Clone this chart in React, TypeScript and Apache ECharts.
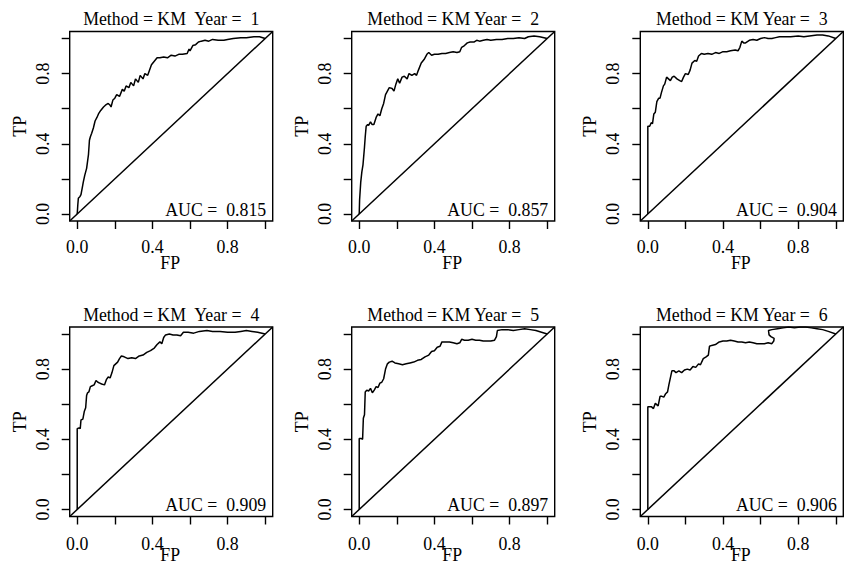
import React, { useEffect, useRef } from "react";
import * as echarts from "echarts";

const years = [1, 2, 3, 4, 5, 6];
const titleTexts = [
  "Method = KM  Year =  1",
  "Method = KM Year =  2",
  "Method = KM Year =  3",
  "Method = KM  Year =  4",
  "Method = KM Year =  5",
  "Method = KM Year =  6",
];
const aucValues = ["0.815", "0.857", "0.904", "0.909", "0.897", "0.906"];
const tickValues = [0, 0.2, 0.4, 0.6, 0.8, 1.0];
const tickLabelValues = [0, 0.4, 0.8];
const diagonal = [[-0.04, -0.04], [1.04, 1.04]];

// ROC curves: [FP, TP]
const roc1 = [
  [0, 0], [0.003, 0.05], [0.006, 0.09], [0.015, 0.1], [0.02, 0.11], [0.027, 0.15], [0.032, 0.18], [0.04, 0.22], [0.05, 0.26], [0.055, 0.3], [0.06, 0.34], [0.065, 0.42], [0.07, 0.44], [0.077, 0.46], [0.086, 0.49], [0.095, 0.53], [0.105, 0.55], [0.113, 0.57], [0.125, 0.59], [0.14, 0.61], [0.15, 0.62], [0.165, 0.63], [0.175, 0.62], [0.18, 0.61], [0.19, 0.65], [0.2, 0.66], [0.21, 0.68], [0.225, 0.67], [0.24, 0.71], [0.25, 0.7], [0.26, 0.73], [0.275, 0.72], [0.285, 0.75], [0.3, 0.73], [0.31, 0.77], [0.325, 0.75], [0.335, 0.79], [0.35, 0.77], [0.36, 0.8], [0.375, 0.79], [0.385, 0.82], [0.395, 0.85], [0.41, 0.87], [0.425, 0.89], [0.44, 0.89], [0.46, 0.895], [0.48, 0.89], [0.5, 0.905], [0.52, 0.9], [0.54, 0.91], [0.56, 0.91], [0.585, 0.915], [0.595, 0.94], [0.6, 0.93], [0.615, 0.96], [0.63, 0.965], [0.645, 0.98], [0.66, 0.985], [0.68, 0.99], [0.7, 0.985], [0.72, 0.995], [0.75, 0.99], [0.78, 0.99], [0.8, 0.995], [0.83, 1.0], [0.87, 1.005], [0.9, 1.005], [0.94, 1.01], [0.97, 1.01], [1.0, 1.0],
];
const roc2 = [
  [0, 0], [0.002, 0.08], [0.008, 0.18], [0.014, 0.24], [0.02, 0.28], [0.028, 0.38], [0.032, 0.44], [0.037, 0.5], [0.045, 0.51], [0.05, 0.505], [0.06, 0.525], [0.068, 0.51], [0.078, 0.51], [0.09, 0.55], [0.1, 0.57], [0.11, 0.56], [0.12, 0.6], [0.13, 0.63], [0.14, 0.68], [0.15, 0.7], [0.16, 0.72], [0.175, 0.715], [0.185, 0.7], [0.195, 0.74], [0.205, 0.77], [0.215, 0.745], [0.228, 0.78], [0.24, 0.785], [0.255, 0.77], [0.265, 0.8], [0.28, 0.79], [0.295, 0.8], [0.305, 0.79], [0.315, 0.82], [0.33, 0.86], [0.345, 0.88], [0.36, 0.91], [0.37, 0.92], [0.385, 0.905], [0.4, 0.91], [0.42, 0.91], [0.44, 0.915], [0.46, 0.915], [0.48, 0.92], [0.5, 0.925], [0.52, 0.92], [0.535, 0.925], [0.545, 0.95], [0.56, 0.96], [0.575, 0.975], [0.59, 0.98], [0.61, 0.98], [0.625, 0.99], [0.64, 0.985], [0.66, 0.99], [0.68, 0.995], [0.7, 0.99], [0.73, 0.995], [0.76, 0.995], [0.79, 1.0], [0.82, 1.0], [0.85, 1.005], [0.88, 1.0], [0.9, 1.01], [0.93, 1.015], [0.96, 1.01], [1.0, 1.0],
];
const roc3 = [
  [0, 0], [0, 0.5], [0.01, 0.5], [0.018, 0.52], [0.025, 0.515], [0.032, 0.57], [0.04, 0.58], [0.048, 0.64], [0.058, 0.66], [0.065, 0.66], [0.072, 0.69], [0.083, 0.73], [0.09, 0.74], [0.1, 0.78], [0.11, 0.77], [0.12, 0.76], [0.13, 0.78], [0.14, 0.785], [0.155, 0.77], [0.17, 0.76], [0.18, 0.755], [0.19, 0.78], [0.2, 0.8], [0.215, 0.795], [0.225, 0.82], [0.235, 0.86], [0.25, 0.875], [0.26, 0.87], [0.27, 0.9], [0.285, 0.915], [0.3, 0.91], [0.32, 0.915], [0.34, 0.91], [0.36, 0.92], [0.38, 0.915], [0.4, 0.925], [0.42, 0.925], [0.44, 0.93], [0.465, 0.935], [0.48, 0.93], [0.49, 0.95], [0.5, 0.985], [0.51, 0.975], [0.52, 0.975], [0.54, 0.99], [0.56, 0.995], [0.58, 0.99], [0.6, 1.0], [0.62, 1.005], [0.64, 1.0], [0.66, 1.0], [0.68, 1.005], [0.7, 1.01], [0.73, 1.01], [0.76, 1.01], [0.8, 1.015], [0.83, 1.01], [0.86, 1.015], [0.9, 1.02], [0.93, 1.02], [0.96, 1.015], [1.0, 1.0],
];
const roc4 = [
  [0, 0], [0, 0.46], [0.01, 0.465], [0.016, 0.46], [0.02, 0.51], [0.03, 0.515], [0.038, 0.56], [0.045, 0.58], [0.05, 0.65], [0.055, 0.665], [0.062, 0.67], [0.07, 0.7], [0.08, 0.705], [0.09, 0.71], [0.1, 0.735], [0.11, 0.725], [0.12, 0.72], [0.13, 0.715], [0.145, 0.71], [0.155, 0.74], [0.165, 0.755], [0.175, 0.75], [0.185, 0.78], [0.195, 0.82], [0.205, 0.83], [0.215, 0.84], [0.225, 0.86], [0.235, 0.875], [0.25, 0.87], [0.27, 0.86], [0.29, 0.865], [0.31, 0.86], [0.33, 0.875], [0.35, 0.88], [0.37, 0.895], [0.39, 0.905], [0.41, 0.92], [0.425, 0.94], [0.44, 0.955], [0.45, 0.945], [0.46, 0.98], [0.47, 0.995], [0.49, 1.0], [0.51, 0.995], [0.53, 0.995], [0.55, 0.99], [0.565, 1.01], [0.59, 1.01], [0.62, 1.005], [0.65, 1.015], [0.69, 1.02], [0.72, 1.015], [0.76, 1.015], [0.8, 1.01], [0.84, 1.01], [0.87, 1.015], [0.9, 1.02], [0.93, 1.015], [0.96, 1.01], [1.0, 1.0],
];
const roc5 = [
  [0, 0], [0, 0.405], [0.01, 0.405], [0.018, 0.4], [0.022, 0.52], [0.028, 0.54], [0.032, 0.67], [0.04, 0.68], [0.05, 0.675], [0.06, 0.69], [0.07, 0.665], [0.08, 0.68], [0.09, 0.7], [0.1, 0.695], [0.11, 0.72], [0.12, 0.725], [0.13, 0.745], [0.14, 0.8], [0.15, 0.83], [0.16, 0.84], [0.175, 0.845], [0.19, 0.835], [0.21, 0.83], [0.23, 0.825], [0.25, 0.83], [0.27, 0.835], [0.29, 0.84], [0.31, 0.85], [0.33, 0.855], [0.35, 0.87], [0.37, 0.88], [0.385, 0.9], [0.4, 0.905], [0.415, 0.925], [0.43, 0.93], [0.44, 0.955], [0.46, 0.955], [0.48, 0.955], [0.5, 0.95], [0.52, 0.945], [0.535, 0.95], [0.545, 0.97], [0.56, 0.965], [0.58, 0.965], [0.6, 0.97], [0.62, 0.965], [0.64, 0.965], [0.66, 0.96], [0.68, 0.96], [0.7, 0.96], [0.72, 0.965], [0.73, 0.985], [0.735, 1.02], [0.76, 1.025], [0.79, 1.025], [0.82, 1.02], [0.85, 1.025], [0.88, 1.03], [0.91, 1.025], [0.94, 1.02], [0.97, 1.01], [1.0, 1.0],
];
const roc6 = [
  [0, 0], [0, 0.585], [0.01, 0.585], [0.02, 0.585], [0.03, 0.575], [0.04, 0.605], [0.05, 0.595], [0.055, 0.59], [0.065, 0.645], [0.075, 0.645], [0.085, 0.64], [0.095, 0.66], [0.105, 0.67], [0.112, 0.71], [0.12, 0.75], [0.128, 0.79], [0.14, 0.79], [0.15, 0.78], [0.165, 0.79], [0.18, 0.78], [0.195, 0.795], [0.21, 0.8], [0.225, 0.795], [0.24, 0.815], [0.255, 0.81], [0.27, 0.83], [0.28, 0.825], [0.295, 0.86], [0.31, 0.87], [0.322, 0.88], [0.328, 0.93], [0.34, 0.935], [0.36, 0.94], [0.38, 0.955], [0.4, 0.96], [0.42, 0.96], [0.44, 0.965], [0.46, 0.96], [0.48, 0.955], [0.5, 0.955], [0.52, 0.95], [0.54, 0.955], [0.56, 0.95], [0.58, 0.945], [0.6, 0.945], [0.62, 0.945], [0.64, 0.95], [0.66, 0.945], [0.67, 0.96], [0.672, 0.975], [0.655, 0.985], [0.645, 0.995], [0.642, 1.02], [0.66, 1.025], [0.69, 1.03], [0.72, 1.035], [0.75, 1.04], [0.78, 1.035], [0.81, 1.04], [0.84, 1.04], [0.87, 1.035], [0.9, 1.03], [0.93, 1.025], [0.96, 1.015], [1.0, 1.0],
];
const rocCurves = [roc1, roc2, roc3, roc4, roc5, roc6];

const FONT = "'Liberation Serif', 'Times New Roman', serif";
const FS = 17.8;
const colLefts = [69.7, 351.7, 640.3];
const rowTops = [31.5, 327];
const fpNameOffsets = [42, 38];
const fpLabelMargins = [17, 18];
const boxW = 203;
const boxH = 189.5;

export default function App() {
  const ref = useRef<HTMLDivElement>(null);
  useEffect(() => {
    if (!ref.current) return;
    const chart = echarts.init(ref.current, null, { renderer: "svg" });
    const grids: any[] = [];
    const xAxes: any[] = [];
    const yAxes: any[] = [];
    const series: any[] = [];
    const graphics: any[] = [];
    years.forEach((yr, i) => {
      const row = Math.floor(i / 3);
      const left = colLefts[i % 3];
      const top = rowTops[row];
      grids.push({
        left, top, width: boxW, height: boxH,
        containLabel: false, outerBoundsMode: "none",
        show: true, borderColor: "#000", borderWidth: 1.4, backgroundColor: "transparent",
      });
      const common = {
        gridIndex: i, type: "value", min: -0.04, max: 1.04,
        splitLine: { show: false },
        axisLine: { show: false, onZero: false },
        axisTick: { show: true, inside: false, customValues: tickValues, length: 8, lineStyle: { color: "#000", width: 1.4 } },
        axisLabel: {
          customValues: tickLabelValues,
          formatter: (v: number) => v.toFixed(1),
          color: "#000", fontFamily: FONT, fontSize: FS,
        },
        nameLocation: "middle",
        nameTextStyle: { color: "#000", fontFamily: FONT, fontSize: FS },
      };
      xAxes.push({
        ...common, position: "bottom",
        axisLabel: { ...common.axisLabel, margin: fpLabelMargins[row] },
      });
      yAxes.push({
        ...common, position: "left", name: "TP", nameGap: 41, nameRotate: 90,
        axisLabel: { ...common.axisLabel, rotate: 90, margin: 18 },
      });
      series.push({
        type: "line", xAxisIndex: i, yAxisIndex: i, data: rocCurves[i],
        showSymbol: false, symbol: "none", clip: true, silent: true,
        lineStyle: { color: "#000", width: 1.5 },
      });
      series.push({
        type: "line", xAxisIndex: i, yAxisIndex: i, data: diagonal,
        showSymbol: false, symbol: "none", clip: true, silent: true,
        lineStyle: { color: "#000", width: 1.5 },
      });
      graphics.push({
        type: "text", x: left + boxW / 2, y: top - 12.5,
        style: { text: titleTexts[i], font: `${FS}px ${FONT}`, fill: "#000", textAlign: "center", textVerticalAlign: "middle" },
      });
      graphics.push({
        type: "text", x: left + boxW - 6.5, y: top + boxH - 11.5,
        style: { text: "AUC =  " + aucValues[i], font: `${FS}px ${FONT}`, fill: "#000", textAlign: "right", textVerticalAlign: "middle" },
      });
      graphics.push({
        type: "text", x: left + boxW / 2 - 1, y: top + boxH + fpNameOffsets[row],
        style: { text: "FP", font: `${FS}px ${FONT}`, fill: "#000", textAlign: "center", textVerticalAlign: "middle" },
      });
    });
    chart.setOption({
      animation: false,
      backgroundColor: "#fff",
      grid: grids,
      xAxis: xAxes,
      yAxis: yAxes,
      series,
      graphic: graphics,
    });
    return () => chart.dispose();
  }, []);
  return <div ref={ref} style={{ position: "fixed", left: 0, top: 0, width: 844, height: 564 }} />;
}
